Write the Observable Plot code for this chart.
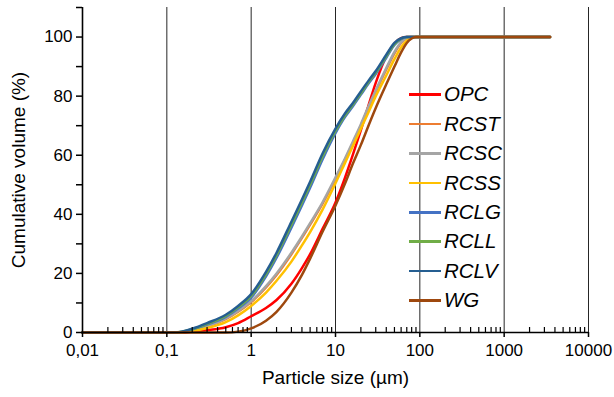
<!DOCTYPE html>
<html><head><meta charset="utf-8">
<script src="https://cdn.jsdelivr.net/npm/d3@7"></script>
<script src="https://cdn.jsdelivr.net/npm/@observablehq/plot@0.6"></script>
<style>
body{margin:0;background:#fff;font-family:"Liberation Sans",Arial,sans-serif;}
#wrap{position:relative;width:614px;height:397px;}
#legend{position:absolute;left:409px;top:80px;}
.row{display:flex;align-items:center;height:29.4px;}
.sw{width:32px;height:2.5px;margin-right:3px;}
.lab{font-style:italic;font-size:20.5px;color:#000;line-height:1;}
</style></head><body><div id="wrap"></div>
<script>
const sizes = [0.01, 0.1, 0.12, 0.15, 0.2, 0.3, 0.5, 0.7, 1, 1.5, 2, 3, 4, 5, 7, 10, 13, 16, 20, 25, 30, 40, 50, 60, 70, 80, 90, 100, 3500];
const OPC  = [0, 0, 0, 0, 0.3, 0.8, 1.8, 3.2, 5.5, 8.3, 11, 16.5, 21.8, 26.5, 35, 44, 52.5, 60, 68.5, 77.5, 84.5, 93.5, 97.8, 99.6, 100, 100, 100, 100, 100];
const RCST = [0, 0, 0, 0.1, 0.7, 2, 4.5, 7, 10.3, 15.3, 19.5, 26.5, 32, 36.5, 43.5, 52, 58.5, 64, 70, 76.5, 81.5, 89, 94.5, 98, 99.6, 100, 100, 100, 100];
const RCSC = [0, 0, 0, 0.1, 0.8, 2.2, 4.8, 7.3, 10.6, 15.7, 20, 27, 32.5, 37, 44, 52.5, 59, 64.5, 70.5, 77, 82, 89.5, 95, 98.3, 99.7, 100, 100, 100, 100];
const RCSS = [0, 0, 0, 0.1, 0.5, 1.5, 3.5, 5.8, 9, 13.5, 17.5, 24, 29.5, 34, 41.5, 50.5, 57.5, 63, 69, 75, 80, 87, 92.5, 96.5, 98.8, 99.8, 100, 100, 100];
const RCLG = [0, 0, 0, 0.2, 1, 2.7, 5.3, 8.1, 11.8, 19, 25.3, 35.5, 43, 49, 58.5, 67.5, 73, 76.5, 80.5, 84.5, 87.5, 93, 97.3, 99.3, 100, 100, 100, 100, 100];
const RCLL = [0, 0, 0, 0.25, 1.1, 2.9, 5.6, 8.5, 12.4, 19.8, 26.2, 36.5, 44, 50, 59.5, 68.2, 73.5, 77, 81, 85, 88, 93.5, 97.6, 99.5, 100, 100, 100, 100, 100];
const RCLV = [0, 0, 0, 0.3, 1.3, 3.2, 6, 9, 13, 20.5, 27, 37.5, 45, 51, 60.5, 69, 74.2, 77.6, 81.6, 85.5, 88.5, 94, 98, 99.6, 100, 100, 100, 100, 100];
const WG   = [0, 0, 0, 0, 0, 0, 0, 0.3, 1.4, 4, 7, 13.5, 19.5, 25, 34, 43, 50.5, 57, 63.5, 70.5, 76, 84, 90, 94.8, 98, 99.5, 100, 100, 100];

const seriesNames = ["OPC", "RCST", "RCSC", "RCSS", "RCLG", "RCLL", "RCLV", "WG"];
const seriesValues = [OPC, RCST, RCSC, RCSS, RCLG, RCLL, RCLV, WG];
const seriesColors = ["#FF0000", "#ED7D31", "#A5A5A5", "#FFC000", "#4472C4", "#70AD47", "#255E91", "#9E480E"];

const xTicks = [0.01, 0.1, 1, 10, 100, 1000, 10000];
const xTickLabels = ["0,01", "0,1", "1", "10", "100", "1000", "10000"];
const yTicks = [0, 10, 20, 30, 40, 50, 60, 70, 80, 90, 100, 110];
const yTickLabels = ["0", "", "20", "", "40", "", "60", "", "80", "", "100", ""];
const xTitle = "Particle size (µm)";
const yTitle = "Cumulative volume (%)";

const minorTicks = [];
for (const d of xTicks.slice(0, -1)) for (let k = 2; k <= 9; k++) minorTicks.push(d * k);

const rows = [];
seriesNames.forEach((name, si) => {
  sizes.forEach((s, i) => rows.push({size: s, value: seriesValues[si][i], series: name}));
});

const font = '"Liberation Sans", Arial, sans-serif';
const chart = Plot.plot({
  width: 614, height: 397,
  marginLeft: 82, marginRight: 26, marginTop: 7, marginBottom: 65,
  x: {type: "log", domain: [0.01, 10000]},
  y: {domain: [0, 110]},
  color: {domain: seriesNames, range: seriesColors},
  style: {fontFamily: font, fontSize: "17px", color: "#000", background: "#fff"},
  marks: [
    Plot.ruleX(xTicks, {stroke: "#000", strokeWidth: 1, strokeOpacity: 0.85}),
    Plot.line(rows, {x: "size", y: "value", z: "series", stroke: "series", strokeWidth: 2.5, curve: "monotone-x"}),
    Plot.ruleY([0], {stroke: "#000", strokeWidth: 1.6}),
    Plot.ruleX([0.01], {stroke: "#000", strokeWidth: 1.6}),
    Plot.axisX({ticks: xTicks, tickSize: 5, tickPadding: 6, tickFormat: d => xTickLabels[xTicks.indexOf(d)], label: null, fontSize: 17, strokeWidth: 1.5}),
    Plot.axisX({ticks: minorTicks, tickSize: 5, dy: -5, tickFormat: () => "", label: null, strokeWidth: 1.2}),
    Plot.axisY({ticks: yTicks, tickSize: 6, tickPadding: 4, tickFormat: d => yTickLabels[yTicks.indexOf(d)], label: null, fontSize: 17, strokeWidth: 1.5}),
    Plot.text([xTitle], {frameAnchor: "bottom", dy: 51, text: d => d, fontSize: 19, fill: "#000"}),
    Plot.text([yTitle], {frameAnchor: "left", dx: -64, rotate: -90, textAnchor: "middle", text: d => d, fontSize: 19, fill: "#000"})
  ]
});
const wrap = document.getElementById("wrap");
wrap.appendChild(chart);
const legend = document.createElement("div");
legend.id = "legend";
seriesNames.forEach((name, i) => {
  const row = document.createElement("div");
  row.className = "row";
  const sw = document.createElement("div");
  sw.className = "sw";
  sw.style.background = seriesColors[i];
  const lab = document.createElement("span");
  lab.className = "lab";
  lab.textContent = name;
  row.appendChild(sw); row.appendChild(lab);
  legend.appendChild(row);
});
wrap.appendChild(legend);
</script></body></html>
